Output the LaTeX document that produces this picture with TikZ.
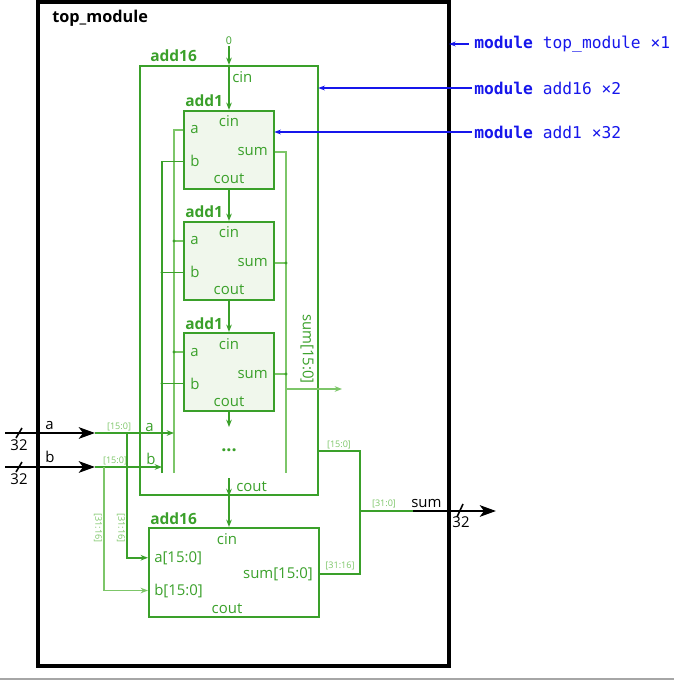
\documentclass[tikz,border=0pt]{standalone}
\usepackage{fontspec}
\setmainfont{Open Sans}
\newfontfamily\codefont{DejaVu Sans Mono}
\usetikzlibrary{arrows.meta,fit}

\definecolor{grn}{RGB}{58,160,42}
\definecolor{grnlight}{RGB}{125,198,105}
\definecolor{grnfill}{RGB}{240,247,236}
\definecolor{modblue}{RGB}{22,22,235}

\tikzset{
  topbox/.style={draw=black, line width=3pt, inner sep=0pt},
  sixteenbox/.style={draw=grn, line width=1.6pt, inner sep=0pt},
  onebox/.style={draw=grn, fill=grnfill, line width=1.6pt, inner sep=0pt},
  modtitle/.style={font=\bfseries\fontsize{11.6}{13}\selectfont, text=grn, inner sep=0pt, anchor=base west},
  portlbl/.style={font=\fontsize{11.2}{13}\selectfont, text=grn, inner sep=0pt},
  buslbl/.style={font=\fontsize{6.8}{7}\selectfont, text=grnlight, inner sep=0.6pt},
  extlbl/.style={font=\fontsize{11.2}{13}\selectfont, text=black, inner sep=0pt},
  codelbl/.style={font=\codefont\fontsize{12.2}{14}\selectfont, text=modblue, inner sep=0pt, anchor=west},
  wiredk/.style={draw=grn, line width=1.1pt},
  wirelt/.style={draw=grnlight, line width=1.1pt},
  garrow/.style={-{Stealth[length=5.5pt,width=4.2pt]}},
  bigarrow/.style={draw=black, line width=2.2pt, -{Stealth[length=12pt,width=8.5pt,inset=3pt]}},
  bluearrow/.style={draw=modblue, line width=0.8pt, -{Stealth[length=5pt,width=3.6pt]}},
  busslash/.style={draw=black, line width=1.2pt},
  jdot/.style={fill=grn},
}

\begin{document}
\begin{tikzpicture}[x=0.75pt,y=0.75pt,yscale=-1,xscale=1]
\useasboundingbox (0,0) rectangle (674,680);

%Shape: Rectangle top_module
\node[topbox, fit={(38,2) (449,666)}] (top) {};
% Text Node
\node[extlbl, font=\bfseries\fontsize{12.2}{14}\selectfont, anchor=base west] (toptitle) at (52,23) {top\_module};

%Shape: Rectangle add16 (low half)
\node[sixteenbox, fit={(140,66) (318,495)}] (ua) {};
\node[modtitle] (uatitle) at (150,62) {add16};
%Shape: Rectangle add16 (high half)
\node[sixteenbox, fit={(149,528) (319,617)}] (ub) {};
\node[modtitle] (ubtitle) at (150,524) {add16};

%Shape: Rectangle add1 x3
\node[onebox, fit={(184,111) (274,189)}] (u1) {};
\node[onebox, fit={(184,222) (274,300)}] (u2) {};
\node[onebox, fit={(184,333) (274,411)}] (u3) {};
\node[modtitle] (u1title) at (185,107) {add1};
\node[modtitle] (u2title) at (185,218) {add1};
\node[modtitle] (u3title) at (185,329) {add1};

% Text Node ports of add1
\node[portlbl, anchor=base] (u1cin) at (229,127) {cin};
\node[portlbl, anchor=base west] (u1a) at (190,134) {a};
\node[portlbl, anchor=base east] (u1s) at (268,156) {sum};
\node[portlbl, anchor=base west] (u1b) at (190,167) {b};
\node[portlbl, anchor=base] (u1cout) at (229,184) {cout};
\node[portlbl, anchor=base] (u2cin) at (229,238) {cin};
\node[portlbl, anchor=base west] (u2a) at (190,245) {a};
\node[portlbl, anchor=base east] (u2s) at (268,267) {sum};
\node[portlbl, anchor=base west] (u2b) at (190,278) {b};
\node[portlbl, anchor=base] (u2cout) at (229,295) {cout};
\node[portlbl, anchor=base] (u3cin) at (229,349) {cin};
\node[portlbl, anchor=base west] (u3a) at (190,356) {a};
\node[portlbl, anchor=base east] (u3s) at (268,378) {sum};
\node[portlbl, anchor=base west] (u3b) at (190,389) {b};
\node[portlbl, anchor=base] (u3cout) at (229,406) {cout};

% Text Node ports of add16
\node[portlbl, anchor=base west] (uacin) at (232,83) {cin};
\node[portlbl, anchor=base west] (uacout) at (236,491) {cout};
\node[portlbl, anchor=base west] (uaa) at (145,431) {a};
\node[portlbl, anchor=base west] (uab) at (146,464) {b};
\node[portlbl, font=\bfseries\fontsize{13.5}{14}\selectfont] (more) at (229,450) {...};
\node[portlbl, rotate=-90] (uasum) at (307,349) {sum[15:0]};
\node[portlbl, anchor=base] (ubcin) at (227,544) {cin};
\node[portlbl, anchor=base west] (uba) at (154,562) {a[15:0]};
\node[portlbl, anchor=base east] (ubs) at (313,578) {sum[15:0]};
\node[portlbl, anchor=base west] (ubb) at (154,595) {b[15:0]};
\node[portlbl, anchor=base] (ubcout) at (227,613) {cout};

% carry chain
\node[buslbl, text=grn, font=\fontsize{8}{9}\selectfont, anchor=south] (zero) at (229,46) {0};
\draw[wiredk, garrow] (zero.south) -- (ua.north);
\draw[wiredk, garrow] (ua.north) -- (u1.north);
\draw[wiredk, garrow] (u1.south) -- (u2.north);
\draw[wiredk, garrow] (u2.south) -- (u3.north);
\coordinate (chainend) at (229,427);
\draw[wiredk, garrow] (u3.south) -- (chainend);
\coordinate (chainin) at (229,478);
\draw[wiredk, garrow] (chainin) -- (ua.south);
\draw[wiredk, garrow] (ua.south) -- (ua.south |- ub.north);

% a / b buses inside add16
\coordinate (abus) at (174,473);
\coordinate (bbus) at (162,473);
\coordinate (sbus) at (286,473);
\draw[wirelt] (abus) |- (u1.west |- u1a.west);
\draw[wirelt] (abus |- u2a.west) -- (u2.west |- u2a.west);
\draw[wirelt] (abus |- u3a.west) -- (u3.west |- u3a.west);
\draw[wiredk] (bbus) |- (u1.west |- u1b.west);
\draw[wiredk] (bbus |- u2b.west) -- (u2.west |- u2b.west);
\draw[wiredk] (bbus |- u3b.west) -- (u3.west |- u3b.west);
\fill[jdot] (abus |- u2a.west) circle (1.2pt);
\fill[jdot] (abus |- u3a.west) circle (1.2pt);
\fill[jdot] (bbus |- u2b.west) circle (1.2pt);
\fill[jdot] (bbus |- u3b.west) circle (1.2pt);

% sum bus inside add16
\draw[wirelt] (u1.east |- u1s.east) -| (sbus);
\draw[wirelt] (u2.east |- u2s.east) -- (sbus |- u2s.east);
\draw[wirelt] (u3.east |- u3s.east) -- (sbus |- u3s.east);
\fill[jdot] (sbus |- u2s.east) circle (1.2pt);
\fill[jdot] (sbus |- u3s.east) circle (1.2pt);
\coordinate (sumout) at (342,389);
\draw[wirelt, garrow] (sbus |- sumout) -- (sumout);

% inputs a and b
\coordinate (ina) at (5,433);
\coordinate (aend) at (95,433);
\coordinate (inb) at (5,467);
\coordinate (bend) at (95,467);
\draw[bigarrow] (ina) -- (aend);
\draw[bigarrow] (inb) -- (bend);
\draw[busslash] (16,438) -- (22,428);
\draw[busslash] (16,472) -- (22,462);
\node[extlbl, anchor=base west] (alab) at (45,429) {a};
\node[extlbl, anchor=base west] (blab) at (45,462) {b};
\node[extlbl, anchor=north] (awidth) at (19,439) {32};
\node[extlbl, anchor=north] (bwidth) at (19,473) {32};
\draw[wiredk, garrow] (aend) -- (abus |- aend);
\draw[wiredk, garrow] (bend) -- (bbus |- bend);
\node[buslbl, anchor=south west] (alo) at (106,432) {[15:0]};
\node[buslbl, anchor=south west] (blo) at (102,466) {[15:0]};

% upper halves to second add16
\coordinate (asplit) at (127,433);
\coordinate (bsplit) at (104,467);
\draw[wiredk, garrow] (asplit) |- (ub.west |- uba.west);
\draw[wirelt, garrow] (bsplit) |- (ub.west |- ubb.west);
\node[buslbl, rotate=-90] (ahi) at (121,528) {[31:16]};
\node[buslbl, rotate=-90] (bhi) at (98,528) {[31:16]};

% sum output
\coordinate (lojoin) at (360,451);
\coordinate (sumjoin) at (360,511);
\coordinate (sumend) at (413,511);
\coordinate (sumtip) at (496,511);
\draw[wiredk] (ua.east |- lojoin) -- (lojoin) |- (ub.east |- ubs.east);
\draw[wiredk] (sumjoin) -- (sumend);
\draw[bigarrow] (sumend) -- (sumtip);
\draw[busslash] (457,517) -- (463,504);
\node[buslbl, anchor=south] (slo) at (339,450) {[15:0]};
\node[buslbl, anchor=south] (shi) at (340,571) {[31:16]};
\node[buslbl, anchor=south] (sall) at (384,509) {[31:0]};
\node[extlbl, anchor=base west] (sumlab) at (411,507) {sum};
\node[extlbl, anchor=north] (sumwidth) at (461,516) {32};

% module legend
\node[codelbl] (lgtop) at (474,44) {\textbf{module} top\_module ×1};
\node[codelbl] (lgsixteen) at (474,88) {\textbf{module} add16 ×2};
\node[codelbl] (lgone) at (474,132) {\textbf{module} add1 ×32};
\draw[bluearrow, shorten <=4pt, shorten >=-1.5pt] (lgtop.west) -- (top.east |- lgtop.west);
\draw[bluearrow, shorten <=1.5pt, shorten >=-0.6pt] (lgsixteen.west) -- (ua.east |- lgsixteen.west);
\draw[bluearrow, shorten <=1.5pt, shorten >=-0.6pt] (lgone.west) -- (u1.east |- lgone.west);

%Straight Lines bottom edge
\draw[gray!70, line width=0.8pt] (0,679) -- (674,679);

\end{tikzpicture}
\end{document}
